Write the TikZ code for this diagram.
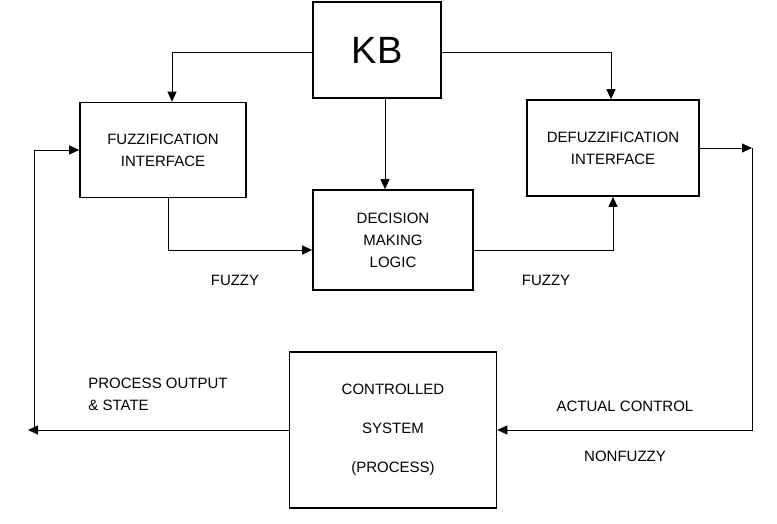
\documentclass[tikz,border=0pt]{standalone}
\usepackage{fontspec}
\setmainfont{Liberation Sans}
\usetikzlibrary{arrows.meta}
\begin{document}
\begin{tikzpicture}[x=1pt,y=-1pt,
 box/.style={draw,line width=1.6pt,inner sep=0pt,font=\fontsize{15}{22}\selectfont,align=center},
 lbl/.style={font=\fontsize{15}{22}\selectfont,align=left},
 ar/.style={line width=0.9pt,-{Triangle[length=10pt,width=9pt]}}]
\useasboundingbox (0,0) rectangle (777,523);
\node[box,minimum width=128pt,minimum height=96pt,font=\fontsize{38}{40}\selectfont] (kb) at (377,50) {KB};
\node[box,minimum width=166pt,minimum height=95pt] (fz) at (163,150) {FUZZIFICATION\\INTERFACE};
\node[box,minimum width=172pt,minimum height=96pt] (dz) at (613,148) {DEFUZZIFICATION\\INTERFACE};
\node[box,minimum width=160pt,minimum height=100pt] (dm) at (393,240) {DECISION\\MAKING\\LOGIC};
\node[box,minimum width=207pt,minimum height=156pt,font=\fontsize{15}{39}\selectfont] (cs) at (393,430) {CONTROLLED\\SYSTEM\\(PROCESS)};
\coordinate (l1) at (172,52); \coordinate (r1) at (611,52); \coordinate (m1) at (385,0);
\draw[ar] (kb.west |- l1) -| (fz.north -| l1);
\draw[ar] (kb.east |- r1) -| (dz.north -| r1);
\draw[ar] (kb.south -| m1) -- (dm.north -| m1);
\coordinate (fb) at (168,250); \coordinate (db) at (613,250);
\draw[ar] (fz.south -| fb) |- (dm.west |- fb);
\draw[ar] (dm.east |- db) -| (dz.south -| db);
\coordinate (rr) at (752,148); \coordinate (rb) at (752,430); \coordinate (ll) at (34,430);
\draw[ar] (dz.east) -- (rr);
\draw[ar] (rr) -- (rb) -- (cs.east |- rb);
\draw[ar] (cs.west |- ll) -- (28,430);
\draw[ar] (ll) |- (fz.west);
\node[lbl] (t1) at (235,280) {FUZZY};
\node[lbl] (t2) at (546,280) {FUZZY};
\node[lbl] (t3) at (158,394) {PROCESS OUTPUT\\\& STATE};
\node[lbl] (t4) at (625,406) {ACTUAL CONTROL};
\node[lbl] (t5) at (625,456) {NONFUZZY};
\end{tikzpicture}
\end{document}
